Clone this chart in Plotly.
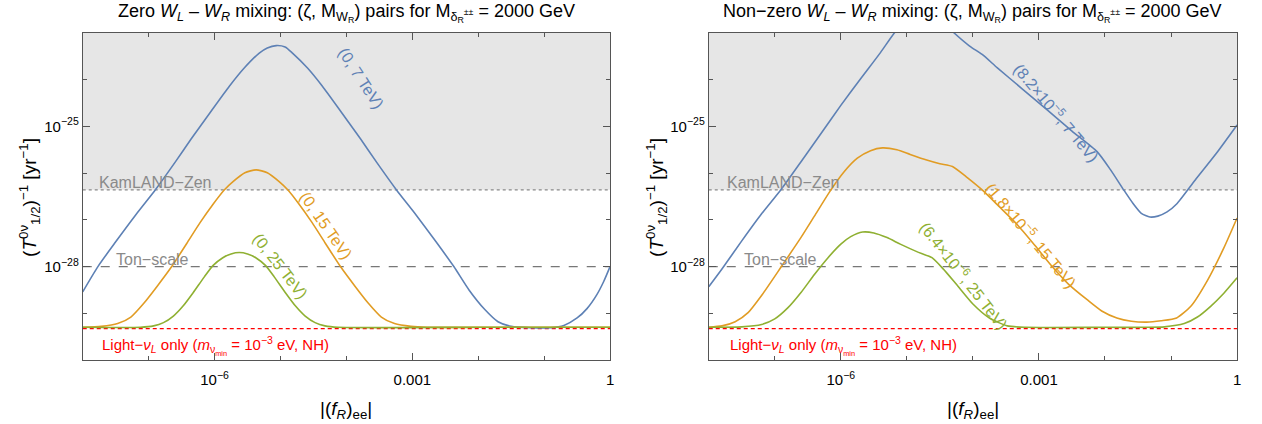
import numpy as np
import plotly.graph_objects as go

# ---------------- data (log10 values) ----------------
# x = log10 |(f_R)_ee| , y = log10 (T_1/2^0nu)^-1 [yr^-1]

# Left panel: zero W_L - W_R mixing
zero_7TeV_logx = [-8.0, -7.77, -7.5, -7.2, -6.9, -6.6, -6.356, -6.05, -5.776, -5.55, -5.322, -5.2,
                  -5.065, -4.93, -4.818, -4.59, -4.364, -4.09, -3.784, -3.54, -3.24, -2.94, -2.64,
                  -2.37, -2.14, -1.9, -1.7, -1.5, -1.2, -0.9, -0.7, -0.5, -0.35, -0.2, -0.1, 0.0]
zero_7TeV_logy = [-28.54, -28.0, -27.47, -26.9, -26.36, -25.77, -25.27, -24.67, -24.14, -23.75, -23.43, -23.32,
                  -23.27, -23.30, -23.43, -23.75, -24.14, -24.67, -25.27, -25.77, -26.36, -26.9, -27.47,
                  -28.0, -28.5, -28.92, -29.18, -29.28, -29.31, -29.31, -29.26, -29.1, -28.9, -28.6, -28.33, -28.0]

zero_15TeV_logx = [-8.0, -7.72, -7.47, -7.27, -7.07, -6.87, -6.65, -6.42, -6.22, -6.02, -5.85, -5.72, -5.54,
                   -5.37, -5.2, -5.02, -4.89, -4.72, -4.52, -4.32, -4.09, -3.87, -3.67, -3.47, -3.27, -3.02,
                   -2.77, -2.0, -1.0, 0.0]
zero_15TeV_logy = [-29.30, -29.28, -29.22, -29.08, -28.78, -28.42, -28.0, -27.5, -27.06, -26.66, -26.355,
                   -26.18, -25.99, -25.93, -25.99, -26.18, -26.355, -26.66, -27.06, -27.5, -28.0, -28.42,
                   -28.78, -29.08, -29.22, -29.28, -29.30, -29.30, -29.30, -29.30]

zero_25TeV_logx = [-8.0, -7.125, -6.925, -6.775, -6.625, -6.475, -6.325, -6.155, -6.025, -5.875, -5.75, -5.625,
                   -5.5, -5.375, -5.225, -5.095, -4.925, -4.775, -4.625, -4.475, -4.325, -4.125, -2.0, 0.0]
zero_25TeV_logy = [-29.30, -29.30, -29.27, -29.2, -29.06, -28.84, -28.56, -28.22, -27.98, -27.81, -27.73, -27.70,
                   -27.73, -27.81, -27.98, -28.22, -28.56, -28.84, -29.06, -29.2, -29.27, -29.30, -29.30, -29.30]

# Right panel: non-zero W_L - W_R mixing
nz_7TeV_logx = [-8.0, -7.8, -7.5, -7.2, -6.91, -6.6, -6.3, -6.0, -5.7, -5.4, -5.19, -5.0, -4.75, -4.5, -4.284,
                -4.05, -3.86, -3.634, -3.25, -2.88, -2.5, -2.12, -1.92, -1.716, -1.58, -1.45, -1.32, -1.2,
                -1.06, -0.915, -0.63, -0.31, 0.0]
nz_7TeV_logy = [-28.43, -28.05, -27.45, -26.87, -26.36, -25.75, -25.15, -24.55, -23.98, -23.42, -23.0, -22.7,
                -22.55, -22.7, -23.0, -23.28, -23.46, -23.74, -24.2, -24.64, -25.1, -25.54, -25.92, -26.36,
                -26.64, -26.86, -26.94, -26.92, -26.83, -26.66, -26.14, -25.57, -24.97]

nz_15TeV_logx = [-8.0, -7.8, -7.6, -7.4, -7.2, -6.9, -6.6, -6.4, -6.17, -5.95, -5.75, -5.55, -5.37, -5.15,
                 -4.95, -4.7, -4.5, -4.31, -4.1, -3.86, -3.6, -3.33, -3.06, -2.8, -2.55, -2.27, -2.05, -1.82,
                 -1.6, -1.37, -1.15, -0.915, -0.7, -0.45, -0.2, 0.0]
nz_15TeV_logy = [-29.30, -29.27, -29.18, -28.98, -28.62, -28.0, -27.37, -26.92, -26.4, -25.97, -25.68, -25.52,
                 -25.46, -25.5, -25.6, -25.72, -25.8, -25.86, -26.08, -26.36, -26.72, -27.1, -27.55, -28.0,
                 -28.38, -28.71, -28.95, -29.1, -29.17, -29.19, -29.16, -29.1, -28.85, -28.3, -27.6, -26.96]

nz_25TeV_logx = [-8.0, -7.5, -7.2, -7.0, -6.8, -6.6, -6.4, -6.2, -6.0, -5.85, -5.67, -5.5, -5.3, -5.1, -4.85,
                 -4.62, -4.45, -4.25, -4.0, -3.75, -3.48, -3.2, -2.0, -1.4, -1.1, -0.8, -0.6, -0.4, -0.2, 0.0]
nz_25TeV_logy = [-29.30, -29.29, -29.24, -29.12, -28.88, -28.55, -28.17, -27.82, -27.52, -27.36, -27.26, -27.28,
                 -27.38, -27.52, -27.68, -27.81, -28.05, -28.38, -28.8, -29.1, -29.27, -29.30, -29.30, -29.30,
                 -29.29, -29.22, -29.08, -28.85, -28.57, -28.24]

# reference limits
KAMLAND = 4.4e-27
TON_SCALE = 1e-28
LIGHT_ONLY = 4.7e-30
X_LIMITS = [1e-8, 1.0]
Y_TOP = 1e-23

x_tick_vals = [1e-6, 1e-3, 1.0]
x_tick_text = ["10<sup>\u22126</sup>", "0.001", "1"]
x_minor_vals = [1e-8, 1e-7, 1e-5, 1e-4, 1e-2, 1e-1]
y_tick_vals = [1e-25, 1e-28]
y_tick_text = ["10<sup>\u221225</sup>", "10<sup>\u221228</sup>"]
y_minor_vals = [1e-30, 1e-29, 1e-27, 1e-26, 1e-24, 1e-23]

BLUE = "#5E81B5"
ORANGE = "#E19C24"
GREEN = "#8FB032"
RED = "#FF0000"
GRAY_TXT = "#8a8a8a"
FONT = "Liberation Sans"

fig = go.Figure()


def curve(xlog, ylog, color, xa, ya):
    fig.add_trace(go.Scatter(x=np.power(10.0, xlog), y=np.power(10.0, ylog), mode="lines",
                             line=dict(color=color, width=1.6, shape="spline", smoothing=0.6),
                             xaxis=xa, yaxis=ya, showlegend=False, hoverinfo="skip"))


for xa, ya in (("x", "y"), ("x2", "y2")):
    fig.add_trace(go.Scatter(x=[X_LIMITS[0], X_LIMITS[1], X_LIMITS[1], X_LIMITS[0]],
                             y=[KAMLAND, KAMLAND, Y_TOP, Y_TOP], fill="toself", mode="lines",
                             fillcolor="#e6e6e6", line=dict(width=0), xaxis=xa, yaxis=ya,
                             showlegend=False, hoverinfo="skip"))
    fig.add_trace(go.Scatter(x=X_LIMITS, y=[KAMLAND, KAMLAND], mode="lines",
                             line=dict(color="#888888", width=1.2, dash="dot"), xaxis=xa, yaxis=ya,
                             showlegend=False, hoverinfo="skip"))
    fig.add_trace(go.Scatter(x=X_LIMITS, y=[TON_SCALE, TON_SCALE], mode="lines",
                             line=dict(color="#777777", width=1.3, dash="dash"), xaxis=xa, yaxis=ya,
                             showlegend=False, hoverinfo="skip"))
    fig.add_trace(go.Scatter(x=X_LIMITS, y=[LIGHT_ONLY, LIGHT_ONLY], mode="lines",
                             line=dict(color=RED, width=1.4, dash="4px,3px"), xaxis=xa, yaxis=ya,
                             showlegend=False, hoverinfo="skip"))

curve(zero_7TeV_logx, zero_7TeV_logy, BLUE, "x", "y")
curve(zero_15TeV_logx, zero_15TeV_logy, ORANGE, "x", "y")
curve(zero_25TeV_logx, zero_25TeV_logy, GREEN, "x", "y")
curve(nz_7TeV_logx, nz_7TeV_logy, BLUE, "x2", "y2")
curve(nz_15TeV_logx, nz_15TeV_logy, ORANGE, "x2", "y2")
curve(nz_25TeV_logx, nz_25TeV_logy, GREEN, "x2", "y2")

W = 1262
H = 424
xdom1 = [83 / W, 612 / W]
xdom2 = [711 / W, 1241 / W]
ydom = [(H - 360) / H, (H - 33) / H]

axis_common = dict(type="log", showline=True, linecolor="#555555", linewidth=1, mirror="ticks",
                   ticks="inside", ticklen=7, tickcolor="#555555", showgrid=False, zeroline=False,
                   tickfont=dict(size=15, color="black", family=FONT))

xax = dict(axis_common, range=[-8, 0], tickvals=x_tick_vals, ticktext=x_tick_text, ticklabelstandoff=6,
           minor=dict(tickvals=x_minor_vals, ticks="inside", ticklen=4, tickcolor="#555555"))
yax = dict(axis_common, range=[-30, -23], tickvals=y_tick_vals, ticktext=y_tick_text,
           minor=dict(tickvals=y_minor_vals, ticks="inside", ticklen=4, tickcolor="#555555"))

fig.update_layout(
    width=W, height=H, margin=dict(l=0, r=0, t=0, b=0),
    paper_bgcolor="white", plot_bgcolor="white",
    font=dict(family=FONT, size=14, color="black"),
    xaxis=dict(xax, domain=xdom1, anchor="y"),
    yaxis=dict(yax, domain=ydom, anchor="x"),
    xaxis2=dict(xax, domain=xdom2, anchor="y2"),
    yaxis2=dict(yax, domain=ydom, anchor="x2"),
)

ann = []


def add_text(text, x, y, xref, yref, color="black", size=15, angle=0, xanchor="center",
             yanchor="middle", yshift=0, xshift=0):
    ann.append(dict(text=text, x=x, y=y, xref=xref, yref=yref, showarrow=False, textangle=angle,
                    font=dict(color=color, size=size, family=FONT), xanchor=xanchor,
                    yanchor=yanchor, yshift=yshift, xshift=xshift))


sub_title = (" <i>W</i><sub><i>L</i></sub> \u2013 <i>W</i><sub><i>R</i></sub> mixing: "
             "(\u03b6, M<sub>W<sub>R</sub></sub>) pairs for M<sub>\u03b4<sub>R</sub><sup>\u00b1\u00b1</sup></sub> = 2000 GeV")
add_text("Zero" + sub_title, (xdom1[0] + xdom1[1]) / 2, 1 - 13 / H, "paper", "paper", size=18)
add_text("Non\u2212zero" + sub_title, (xdom2[0] + xdom2[1]) / 2, 1 - 13 / H, "paper", "paper", size=18)

ytitle = "(<i>T</i><sup>0\u03bd</sup><sub>1/2</sub>)<sup>\u22121</sup> [yr<sup>\u22121</sup>]"
add_text(ytitle, 30 / W, 1 - 197 / H, "paper", "paper", size=19, angle=-90)
add_text(ytitle, 659 / W, 1 - 197 / H, "paper", "paper", size=19, angle=-90)
xtitle = "|(<i>f<sub>R</sub></i>)<sub>ee</sub>|"
add_text(xtitle, (xdom1[0] + xdom1[1]) / 2, 1 - 410 / H, "paper", "paper", size=19)
add_text(xtitle, (xdom2[0] + xdom2[1]) / 2, 1 - 410 / H, "paper", "paper", size=19)

light_txt = ("Light\u2212<i>\u03bd<sub>L</sub></i> only (<i>m</i><sub>\u03bd<sub>min</sub></sub> = "
             "10<sup>\u22123</sup> eV, NH)")
for xr, yr, kx, tx, lx in (("x", "y", -7.79, -7.52, -7.74), ("x2", "y2", -7.76, -7.49, -7.71)):
    add_text("KamLAND\u2212Zen", kx, np.log10(KAMLAND), xr, yr, color=GRAY_TXT, size=16, xanchor="left",
             yanchor="bottom", yshift=-3)
    add_text("Ton\u2212scale", tx, np.log10(TON_SCALE), xr, yr, color=GRAY_TXT, size=16, xanchor="left",
             yanchor="bottom", yshift=-3)
    add_text(light_txt, lx, np.log10(LIGHT_ONLY), xr, yr, color=RED, size=15, xanchor="left",
             yanchor="top", yshift=-3)

add_text("(0, 7 TeV)", -3.78, -23.98, "x", "y", color=BLUE, size=16, angle=57)
add_text("(0, 15 TeV)", -4.31, -27.12, "x", "y", color=ORANGE, size=16, angle=55)
add_text("(0, 25 TeV)", -5.0, -28.0, "x", "y", color=GREEN, size=16, angle=52)
add_text("(8.2\u00d710<sup>\u22125</sup>, 7 TeV)", -2.73, -24.69, "x2", "y2", color=BLUE, size=16, angle=50)
add_text("(1.8\u00d710<sup>\u22125</sup>, 15 TeV)", -3.11, -27.32, "x2", "y2", color=ORANGE, size=16, angle=50)
add_text("(6.4\u00d710<sup>\u22126</sup>, 25 TeV)", -4.13, -28.18, "x2", "y2", color=GREEN, size=16, angle=52)

fig.update_layout(annotations=ann)
fig.write_html("out.html", config={"displayModeBar": False},
               post_script="document.body.style.margin='0px';")
